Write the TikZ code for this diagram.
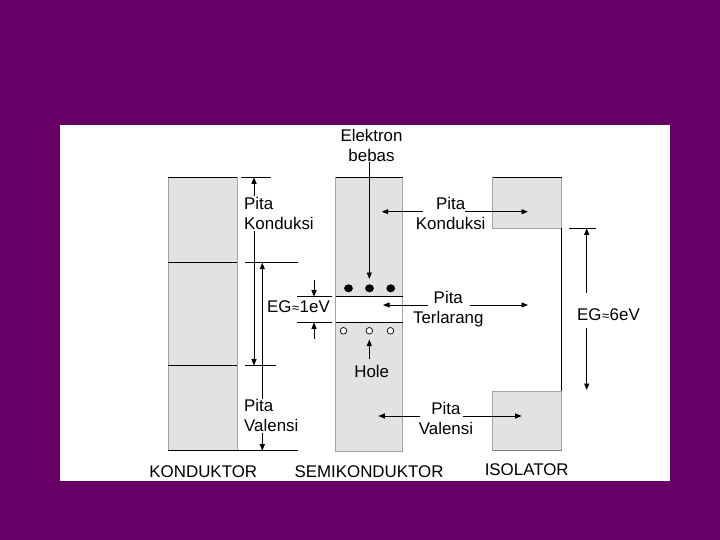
\documentclass[tikz,border=0pt]{standalone}
\usepackage{fontspec}
\setmainfont{Liberation Sans}
\usetikzlibrary{arrows.meta}
\definecolor{bgpurple}{HTML}{660066}
\definecolor{bandfill}{HTML}{E2E2E2}
\definecolor{bandedge}{HTML}{A4A4A4}
\newcommand{\apx}{{\fontsize{13}{13}\selectfont\kern0.5pt≈\kern0.5pt}}
\begin{document}
\begin{tikzpicture}[x=1pt,y=-1pt,
  txt/.style={font=\fontsize{16.9}{20}\selectfont, inner sep=1pt, align=center},
  ln/.style={line width=0.9pt, draw=black},
  arr/.style={ln, -{Triangle[length=6.5pt,width=5pt]}},
  darr/.style={ln, {Triangle[length=6.5pt,width=5pt]}-{Triangle[length=6.5pt,width=5pt]}},
  band/.style={fill=bandfill, draw=bandedge, line width=0.9pt}]

\fill[bgpurple] (0,0) rectangle (720,540);
\fill[white] (60,125) rectangle (670,481);
\useasboundingbox (0,0) rectangle (720,540);

% ---------- KONDUKTOR ----------
\filldraw[band] (168.3,177.3) rectangle (237.3,450.7);
\draw[ln] (168.3,177.3) -- (237.3,177.3);
\draw[ln] (168.3,262.7) -- (237.3,262.7);
\draw[ln] (168.3,365.7) -- (237.3,365.7);
\draw[ln] (168.3,450.7) -- (298,450.7);
% ticks
\coordinate (kt1) at (254,177.3);
\coordinate (kt2) at (254,365.7);
\coordinate (kt3) at (262.3,262.7);
\coordinate (kt4) at (262.3,450.7);
\draw[ln] (241,177.3) -- (271,177.3);
\draw[ln] (245,262.7) -- (298,262.7);
\draw[ln] (245,365.7) -- (276,365.7);
\draw[darr] (kt1) -- (kt2);
\draw[darr] (kt3) -- (kt4);
\node[txt, align=left, anchor=west, fill=white] (lpk) at (243,213.3) {Pita\\Konduksi};
\node[txt, align=left, anchor=west, fill=white] (lpv) at (243,415.8) {Pita\\Valensi};

% ---------- SEMIKONDUKTOR ----------
\filldraw[band] (335.7,177.3) rectangle (402.7,451.7);
\fill[white] (336.2,296.7) rectangle (402.2,322.3);
\draw[ln] (335.7,177.3) -- (402.7,177.3);
\draw[ln] (335.7,296.7) -- (402.7,296.7);
\draw[ln] (335.7,322.3) -- (402.7,322.3);
\foreach \xx in {348.5,369.5,390.7} {
  \fill (\xx,288.3) ellipse[x radius=4.4pt, y radius=4pt];
}
\foreach \xx in {343.5,369.3,390.5} {
  \draw[line width=0.7pt, fill=white] (\xx,330.8) circle[radius=3.3pt];
}
% EG 1eV
\draw[ln] (297,296.7) -- (332,296.7);
\draw[ln] (297,322.3) -- (332,322.3);
\coordinate (g1a) at (314,296.7);
\coordinate (g1b) at (314,322.3);
\node[txt] (eg1) at (298.5,306.6) {EG\apx 1eV};
\draw[arr] (314,280) -- (g1a);
\draw[arr] (314,339) -- (g1b);

% Elektron bebas
\node[txt] (eb) at (371.5,145) {Elektron\\bebas};
\coordinate (ebtip) at (369.3,279);
\draw[arr] (eb.south -| ebtip) -- (ebtip);
% Hole
\node[txt] (hole) at (371.7,371.7) {Hole};
\coordinate (holetip) at (369.3,339.5);
\draw[arr, shorten <=5pt] (hole.north -| holetip) -- (holetip);

% ---------- ISOLATOR ----------
\filldraw[band] (492.7,177.3) rectangle (561.7,228.3);
\draw[ln] (492.7,177.3) -- (561.7,177.3);
\filldraw[band] (492.7,391) rectangle (561.7,450.7);
\draw[line width=0.9pt, draw=gray] (492.7,450.7) -- (561.7,450.7);
\draw[ln] (561.7,228.3) -- (561.7,391);
% EG 6eV
\draw[ln] (569,228.3) -- (596,228.3);
\coordinate (g6a) at (586.7,228.3);
\coordinate (g6b) at (586.7,390);
\node[txt] (eg6) at (608.5,315) {EG\apx 6eV};
\draw[arr, shorten <=15pt] (eg6.north -| g6a) -- (g6a);
\draw[arr, shorten <=6pt] (eg6.south -| g6b) -- (g6b);

% ---------- middle labels ----------
\node[txt] (pk) at (450.7,213.3) {Pita\\Konduksi};
\coordinate (pkL) at (381.7,211.7);
\coordinate (pkR) at (528,211.7);
\draw[arr] (pk.center) ++(-27.7,-1.6) -- (pkL);
\draw[arr] (pk.center) ++(14.3,-1.6) -- (pkR);

\node[txt] (pt) at (448.3,309) {Pita\\Terlarang};
\coordinate (ptL) at (383,305);
\coordinate (ptR) at (528,305);
\draw[arr] (pt.center) ++(-20.3,-4) -- (ptL);
\draw[arr] (pt.center) ++(21.7,-4) -- (ptR);

\node[txt] (pv) at (446,418.8) {Pita\\Valensi};
\coordinate (pvL) at (378.3,416);
\coordinate (pvR) at (521.7,416);
\draw[arr] (pv.center) ++(-26,-2.8) -- (pvL);
\draw[arr] (pv.center) ++(17.3,-2.8) -- (pvR);

% ---------- bottom labels ----------
\node[txt] (lk) at (203.3,471.7) {KONDUKTOR};
\node[txt] (ls) at (369,471.7) {SEMIKONDUKTOR};
\node[txt] (li) at (526.7,470) {ISOLATOR};
\end{tikzpicture}
\end{document}
